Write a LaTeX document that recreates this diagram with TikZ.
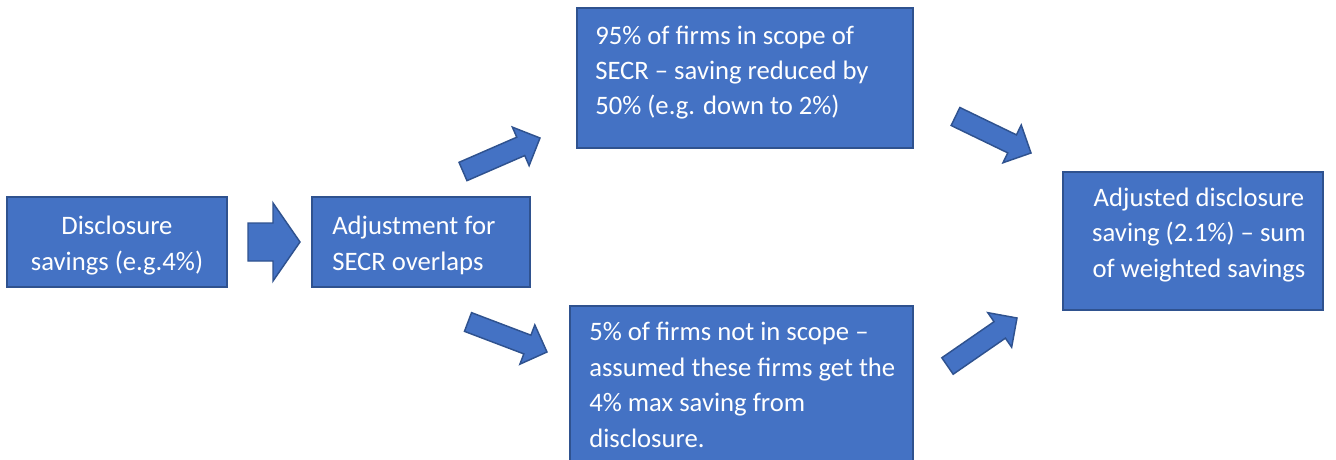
\documentclass[tikz,border=0pt]{standalone}
\usepackage{fontspec}
\setmainfont{Carlito}
\usetikzlibrary{calc,fit}
\definecolor{boxfill}{HTML}{4472C4}
\definecolor{boxline}{HTML}{2F528F}

\tikzset{
  panel/.style={draw=boxline, fill=boxfill, line width=1.1pt, inner sep=0pt},
  label/.style={text=white, font=\fontsize{20}{26.6}\selectfont, inner sep=0pt},
  blockarrow/.style={draw=boxline, fill=boxfill, line width=1.1pt, line join=miter},
}

% block arrow: tail centre, tip, half shaft width, half head width, head length
\newcommand\blockarr[5]{%
  \draw[blockarrow]
    ($(#1)!#3!90:(#2)$)
    -- ($(#2)!#5!(#1)!#3!-90:(#1)$)
    -- ($(#2)!#5!(#1)!#4!-90:(#1)$)
    -- (#2)
    -- ($(#2)!#5!(#1)!#4!90:(#1)$)
    -- ($(#2)!#5!(#1)!#3!90:(#1)$)
    -- ($(#1)!#3!-90:(#2)$)
    -- cycle;}

\begin{document}
\begin{tikzpicture}[x=0.75pt, y=-0.75pt]
  \path[use as bounding box, clip] (0,0) rectangle (1336,460);

  % boxes
  \node[panel, fit={(7,197) (227,287)}]    (b1) {};
  \node[panel, fit={(312,197) (530,287)}]  (b2) {};
  \node[panel, fit={(577,8) (913,148)}]    (b3) {};
  \node[panel, fit={(570,306) (913,478)}]  (b4) {};
  \node[panel, fit={(1063,172) (1323,310)}] (b5) {};

  % texts (anchored at the baseline of their last line)
  \node[label, align=center, anchor=base] (t1) at (117,270)
    {Disclosure\\savings (e.g.4\%)};
  \node[label, align=left, anchor=base west] (t2) at (332,270)
    {Adjustment for\\SECR overlaps};
  \node[label, align=left, anchor=base west] (t3) at (595,115)
    {95\% of firms in scope of\\SECR -- saving reduced by\\50\% (e.g. down to 2\%)};
  \node[label, align=left, anchor=base west] (t4) at (589,447)
    {5\% of firms not in scope --\\assumed these firms get the\\4\% max saving from\\disclosure.};
  \node[label, align=center, anchor=base] (t5) at (1199,277)
    {Adjusted disclosure\\saving (2.1\%) -- sum\\of weighted savings};

  % arrows between the boxes
  \coordinate (a1s) at (248,242);   \coordinate (a1e) at (300,242);
  \coordinate (a2s) at (463,171.5); \coordinate (a2e) at (540,138);
  \coordinate (a3s) at (468,322);   \coordinate (a3e) at (547,352);
  \coordinate (a4s) at (955.5,116.5); \coordinate (a4e) at (1031,153);
  \coordinate (a5s) at (947.5,366); \coordinate (a5e) at (1017,318);

  \blockarr{a1s}{a1e}{14.25pt}{29.25pt}{20.25pt}
  \blockarr{a2s}{a2e}{7.5pt}{15.75pt}{15.75pt}
  \blockarr{a3s}{a3e}{7.5pt}{15.75pt}{15.75pt}
  \blockarr{a4s}{a4e}{7.5pt}{15.75pt}{15.75pt}
  \blockarr{a5s}{a5e}{7.5pt}{15.75pt}{15.75pt}
\end{tikzpicture}
\end{document}
